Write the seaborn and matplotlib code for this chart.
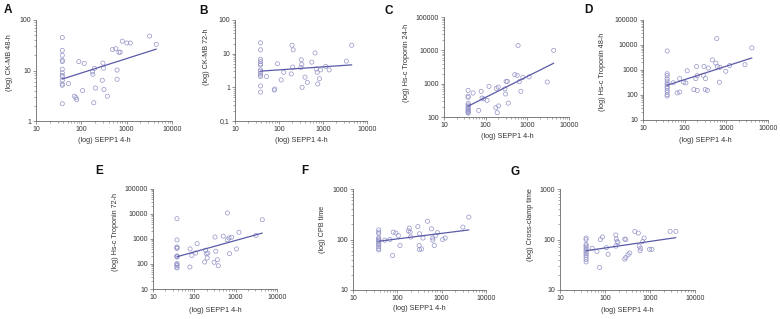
import numpy as np
import pandas as pd
import matplotlib
matplotlib.use("Agg")
import matplotlib.pyplot as plt
import seaborn as sns
from matplotlib.ticker import LogLocator, FuncFormatter, NullFormatter

sns.set_theme(style="ticks")
plt.rcParams["font.family"] = ["Liberation Sans", "DejaVu Sans"]

# ---------------- data ----------------
x_label = "(log) SEPP1 4-h"
cluster = [38] * 13

a_x = cluster + [52, 70, 76, 79, 88, 107, 116, 175, 180, 188, 195, 205, 290, 300, 310, 315,
                 375, 485, 575, 615, 615, 675, 720, 800, 1010, 1200, 3200, 4500]
a_y = [45, 25, 20, 16, 15, 10.6, 9, 8, 7.5, 6.4, 5.4, 5.1, 2.2] + \
      [5.5, 3.1, 2.9, 2.65, 15, 4.0, 13.8, 9.4, 8.4, 2.3, 11, 4.5, 6.4, 14, 11.1, 4.2,
       3.1, 26, 27, 10.2, 6.7, 23, 23, 38, 35, 35, 48, 33]

b_x = cluster + [52, 78, 80, 92, 112, 128, 190, 198, 210, 205, 320, 330, 335, 315, 390, 440,
                 555, 660, 700, 740, 760, 830, 880, 1150, 1380, 3400, 4500]
b_y = [21, 13, 6.8, 5.8, 5.0, 4.6, 3.3, 3.0, 2.6, 2.3, 2.1, 1.1, 0.72] + \
      [2.1, 0.83, 0.89, 5.0, 1.66, 2.8, 2.5, 17.8, 13, 4.0, 6.6, 4.8, 1.0, 3.9, 2.0, 1.4,
       5.6, 10.5, 3.5, 2.8, 1.26, 1.8, 3.3, 4.2, 3.3, 6.0, 17.8]

c_x = cluster + [50, 68, 78, 82, 90, 108, 120, 175, 180, 190, 200, 205, 290, 300, 310, 330,
                 350, 500, 570, 600, 640, 700, 780, 1100, 3000, 4300]
c_y = [630, 420, 390, 260, 230, 210, 195, 180, 165, 155, 145, 138, 130] + \
      [525, 158, 590, 370, 350, 316, 830, 190, 720, 135, 790, 215, 700, 490, 1170, 1170,
       260, 1860, 1780, 14000, 1150, 590, 1550, 1600, 1120, 10000]

d_x = cluster + [53, 66, 76, 76, 95, 107, 115, 166, 185, 193, 200, 200, 280, 290, 310, 316,
                 350, 370, 460, 560, 590, 610, 680, 700, 970, 1200, 2800, 4100]
d_y = [5700, 690, 580, 430, 350, 280, 250, 210, 180, 148, 125, 100, 88] + \
      [300, 117, 127, 440, 315, 295, 910, 160, 440, 1350, 580, 148, 600, 1350, 160, 440,
       148, 1170, 2500, 1850, 18000, 1350, 315, 1250, 870, 1480, 1600, 7600]

e_x = cluster + [78, 79, 87, 107, 117, 178, 187, 194, 205, 212, 300, 316, 330, 360, 380,
                 500, 630, 630, 690, 710, 800, 1050, 1200, 3100, 4400]
e_y = [6500, 920, 480, 440, 420, 210, 200, 190, 105, 95, 88, 75, 70] + \
      [76, 400, 220, 275, 650, 120, 355, 260, 174, 275, 117, 1200, 325, 148, 85,
       1300, 930, 11000, 1100, 260, 1170, 400, 1850, 1400, 5900]

f_x = cluster + [52, 68, 78, 81, 93, 105, 115, 178, 187, 194, 200, 290, 310, 316, 316, 350,
                 380, 480, 590, 630, 630, 680, 720, 810, 1050, 1200, 3000, 4100]
f_y = [155, 140, 130, 108, 102, 98, 94, 90, 83, 78, 72, 66, 62] + \
      [97, 100, 48, 140, 134, 120, 76, 148, 168, 140, 112, 180, 76, 63, 130, 65,
       107, 230, 163, 97, 107, 76, 118, 137, 100, 107, 176, 278]

g_x = cluster + [52, 66, 76, 79, 88, 107, 117, 174, 174, 178, 186, 194, 275, 290, 275, 290,
                 325, 355, 460, 550, 575, 600, 620, 690, 740, 980, 1100, 2800, 3750]
g_y = [107, 100, 80, 75, 70, 64, 60, 56, 52, 48, 44, 40, 36] + \
      [67, 58, 28, 100, 112, 69, 51, 74, 123, 102, 91, 87, 102, 100, 41, 44,
       50, 54, 145, 134, 74, 60, 67, 91, 107, 64, 64, 145, 145]

letters = ["A", "B", "C", "D", "E", "F", "G"]
y_labels = ["(log) CK-MB 48-h", "(log) CK-MB 72-h", "(log) Hs-c Troponin 24-h",
            "(log) Hs-c Troponin 48-h", "(log) Hs-c Troponin 72-h", "(log) CPB time",
            "(log) Cross-clamp time"]
y_limits = [(1, 100), (0.1, 100), (100, 100000), (10, 100000), (10, 100000), (10, 1000), (10, 1000)]
xs_all = [a_x, b_x, c_x, d_x, e_x, f_x, g_x]
ys_all = [a_y, b_y, c_y, d_y, e_y, f_y, g_y]

# ---------------- layout (pixels) ----------------
W, H = 780, 319
boxes = [(36, 172, 20, 121), (235, 367, 20, 121), (444, 569, 17, 117), (643, 768, 20, 119.5),
         (153, 277, 189, 289), (353, 486, 189, 290), (560, 695, 189, 290)]
ylab_pos = [(10, 63), (206, 57), (407, 63), (603, 72), (115, 232), (323, 229), (531, 225)]
xlab_pos = [(104, 140), (301, 140), (507, 137), (705, 140), (215, 311), (419, 309), (627, 311)]
letter_pos = [(8, 10), (203, 11), (389, 11), (588, 10), (99, 171), (305, 171), (515, 172)]

pt_color = "#9494c8"
line_color = "#5a5aa8"
axis_color = "#6a6a6a"

fig = plt.figure(figsize=(W / 100, H / 100), dpi=100)


def fmt(v, p):
    if v < 1:
        return ("%g" % v).replace(".", ",")
    return "%d" % int(round(v))


for i in range(7):
    l, r, t, b = boxes[i]
    ax = fig.add_axes([l / W, 1 - b / H, (r - l) / W, (b - t) / H])
    df = pd.DataFrame({"x": xs_all[i], "y": ys_all[i]})
    sns.scatterplot(data=df, x="x", y="y", ax=ax, s=9, color=pt_color, linewidth=0.5, legend=False)
    coll = ax.collections[-1]
    coll.set_facecolor("none")
    coll.set_edgecolor(pt_color)

    lx = np.log10(df["x"].to_numpy(float))
    ly = np.log10(df["y"].to_numpy(float))
    slope, icpt = np.polyfit(lx, ly, 1)
    xf = np.logspace(lx.min(), lx.max(), 60)
    yf = 10 ** (icpt + slope * np.log10(xf))
    sns.lineplot(x=xf, y=yf, ax=ax, color=line_color, linewidth=0.9)

    ax.set_xscale("log")
    ax.set_yscale("log")
    ax.set_xlim(10, 10000)
    ax.set_ylim(*y_limits[i])
    for axis in (ax.xaxis, ax.yaxis):
        axis.set_major_locator(LogLocator(base=10, numticks=12))
        axis.set_minor_locator(LogLocator(base=10, subs=np.arange(2, 10), numticks=12))
        axis.set_major_formatter(FuncFormatter(fmt))
        axis.set_minor_formatter(NullFormatter())
    ax.tick_params(which="major", direction="out", length=2.2, width=0.5, color=axis_color,
                   labelsize=5, pad=1.5, labelcolor="#333333")
    ax.tick_params(which="minor", direction="out", length=1.3, width=0.4, color=axis_color)
    sns.despine(ax=ax)
    for sp in ("left", "bottom"):
        ax.spines[sp].set_color(axis_color)
        ax.spines[sp].set_linewidth(0.6)

    ax.set_xlabel(x_label, fontsize=5.2, color="#333333")
    ax.set_ylabel(y_labels[i], fontsize=5.2, color="#333333")
    ax.xaxis.label.set_va("center")
    ax.yaxis.label.set_va("center")
    xpx, ypx = xlab_pos[i]
    ax.xaxis.set_label_coords((xpx - l) / (r - l), (b - ypx) / (b - t))
    xpx, ypx = ylab_pos[i]
    ax.yaxis.set_label_coords((xpx - l) / (r - l), (b - ypx) / (b - t))

    lxp, lyp = letter_pos[i]
    fig.text(lxp / W, 1 - lyp / H, letters[i], fontsize=8.5, fontweight="bold",
             ha="center", va="center", color="#111111")

fig.savefig("out.png", dpi=100)
